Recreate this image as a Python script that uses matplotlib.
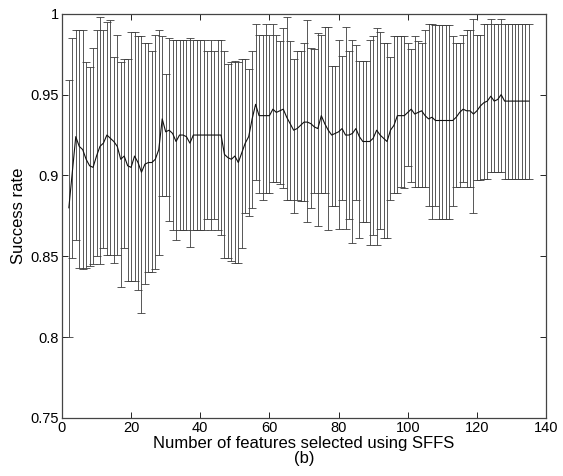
import numpy as np
import matplotlib
matplotlib.use("Agg")
import matplotlib.pyplot as plt

features = list(range(2, 136))

mean_rate = [
    0.880, 0.902, 0.924, 0.918, 0.916, 0.910, 0.906, 0.905, 0.912, 0.918,   # 2-11
    0.920, 0.925, 0.923, 0.921, 0.918, 0.910, 0.912, 0.906, 0.905, 0.912,   # 12-21
    0.908, 0.902, 0.907, 0.908, 0.908, 0.910, 0.916, 0.935, 0.927, 0.928,   # 22-31
    0.926, 0.921, 0.925, 0.925, 0.924, 0.920, 0.925, 0.925, 0.925, 0.925,   # 32-41
    0.925, 0.925, 0.925, 0.925, 0.925, 0.913, 0.911, 0.910, 0.912, 0.908,   # 42-51
    0.914, 0.920, 0.924, 0.935, 0.944, 0.937, 0.937, 0.937, 0.937, 0.941,   # 52-61
    0.939, 0.940, 0.941, 0.936, 0.932, 0.928, 0.929, 0.931, 0.933, 0.933,   # 62-71
    0.932, 0.930, 0.929, 0.937, 0.932, 0.928, 0.925, 0.926, 0.927, 0.929,   # 72-81
    0.925, 0.925, 0.926, 0.929, 0.924, 0.921, 0.921, 0.921, 0.923, 0.928,   # 82-91
    0.925, 0.923, 0.921, 0.928, 0.931, 0.937, 0.937, 0.937, 0.939, 0.941,   # 92-101
    0.938, 0.939, 0.940, 0.937, 0.935, 0.936, 0.934, 0.934, 0.934, 0.934,   # 102-111
    0.934, 0.934, 0.936, 0.939, 0.941, 0.940, 0.940, 0.938, 0.940, 0.943,   # 112-121
    0.945, 0.946, 0.949, 0.946, 0.947, 0.950, 0.946, 0.946, 0.946, 0.946,   # 122-131
    0.946, 0.946, 0.946, 0.946,                                             # 132-135
]

upper_rate = [
    0.959, 0.985, 0.990, 0.990, 0.990, 0.970, 0.967, 0.979, 0.990, 0.998,   # 2-11
    0.990, 0.995, 0.996, 0.973, 0.987, 0.970, 0.972, 0.972, 0.989, 0.989,   # 12-21
    0.986, 0.986, 0.982, 0.982, 0.977, 0.987, 0.990, 0.986, 0.963, 0.985,   # 22-31
    0.984, 0.984, 0.984, 0.984, 0.984, 0.985, 0.984, 0.984, 0.984, 0.984,   # 32-41
    0.977, 0.984, 0.977, 0.984, 0.984, 0.977, 0.969, 0.970, 0.971, 0.970,   # 42-51
    0.972, 0.972, 0.966, 0.977, 0.994, 0.987, 0.987, 0.994, 0.987, 0.994,   # 52-61
    0.987, 0.983, 0.991, 0.998, 0.983, 0.972, 0.977, 0.977, 0.982, 0.996,   # 62-71
    0.979, 0.978, 0.988, 0.987, 0.992, 0.992, 0.968, 0.968, 0.984, 0.974,   # 72-81
    0.992, 0.977, 0.984, 0.981, 0.971, 0.971, 0.971, 0.984, 0.986, 0.991,   # 82-91
    0.989, 0.982, 0.982, 0.973, 0.986, 0.986, 0.986, 0.986, 0.982, 0.978,   # 92-101
    0.986, 0.983, 0.982, 0.990, 0.994, 0.994, 0.993, 0.993, 0.993, 0.993,   # 102-111
    0.993, 0.986, 0.982, 0.982, 0.987, 0.990, 0.990, 0.997, 0.987, 0.987,   # 112-121
    0.994, 0.994, 0.997, 0.994, 0.994, 0.997, 0.994, 0.994, 0.994, 0.994,   # 122-131
    0.994, 0.994, 0.994, 0.994,                                             # 132-135
]

lower_rate = [
    0.800, 0.849, 0.860, 0.843, 0.842, 0.843, 0.844, 0.845, 0.850, 0.845,   # 2-11
    0.855, 0.851, 0.851, 0.846, 0.851, 0.831, 0.855, 0.835, 0.835, 0.835,   # 12-21
    0.829, 0.815, 0.833, 0.840, 0.840, 0.842, 0.851, 0.887, 0.887, 0.872,   # 22-31
    0.866, 0.860, 0.866, 0.866, 0.866, 0.856, 0.866, 0.866, 0.866, 0.866,   # 32-41
    0.873, 0.866, 0.873, 0.866, 0.863, 0.849, 0.849, 0.847, 0.846, 0.846,   # 42-51
    0.855, 0.877, 0.875, 0.880, 0.897, 0.889, 0.885, 0.889, 0.889, 0.896,   # 52-61
    0.896, 0.895, 0.892, 0.885, 0.885, 0.877, 0.885, 0.884, 0.884, 0.871,   # 62-71
    0.880, 0.889, 0.869, 0.889, 0.889, 0.866, 0.881, 0.881, 0.867, 0.885,   # 72-81
    0.867, 0.873, 0.858, 0.885, 0.861, 0.871, 0.871, 0.857, 0.863, 0.857,   # 82-91
    0.867, 0.861, 0.861, 0.885, 0.889, 0.889, 0.893, 0.892, 0.906, 0.896,   # 92-101
    0.893, 0.893, 0.893, 0.893, 0.881, 0.873, 0.881, 0.873, 0.873, 0.873,   # 102-111
    0.873, 0.881, 0.893, 0.893, 0.896, 0.893, 0.893, 0.877, 0.897, 0.897,   # 112-121
    0.898, 0.898, 0.902, 0.902, 0.902, 0.902, 0.898, 0.898, 0.898, 0.898,   # 122-131
    0.898, 0.898, 0.898, 0.898,                                             # 132-135
]

x_ticks = [0, 20, 40, 60, 80, 100, 120, 140]
y_ticks = [0.75, 0.8, 0.85, 0.9, 0.95, 1.0]
y_tick_labels = ["0.75", "0.8", "0.85", "0.9", "0.95", "1"]

plt.rcParams['font.family'] = ['Liberation Sans', 'DejaVu Sans']

fig = plt.figure(figsize=(5.63, 4.76), dpi=100)
ax = fig.add_axes([0.110, 0.122, 0.860, 0.849])

m = np.array(mean_rate)
lo = m - np.array(lower_rate)
hi = np.array(upper_rate) - m
ax.errorbar(features, m, yerr=[lo, hi], fmt='none', ecolor='#3c3c3c',
            elinewidth=0.6, capsize=2.6, capthick=0.6)
ax.plot(features, m, color='#111111', linewidth=0.8)

ax.set_xlim(0, 140)
ax.set_ylim(0.75, 1.0)
ax.set_xticks(x_ticks)
ax.set_yticks(y_ticks)
ax.set_yticklabels(y_tick_labels)
ax.tick_params(direction='in', top=True, right=True, labelsize=10.5, length=4, width=0.6, pad=2)
for s in ax.spines.values():
    s.set_linewidth(0.9)
    s.set_color('#444444')

ax.set_xlabel("Number of features selected using SFFS\n(b)", fontsize=12, labelpad=1, linespacing=1.0)
ax.set_ylabel("Success rate", fontsize=12, labelpad=3)

fig.savefig("out.png", dpi=100)
